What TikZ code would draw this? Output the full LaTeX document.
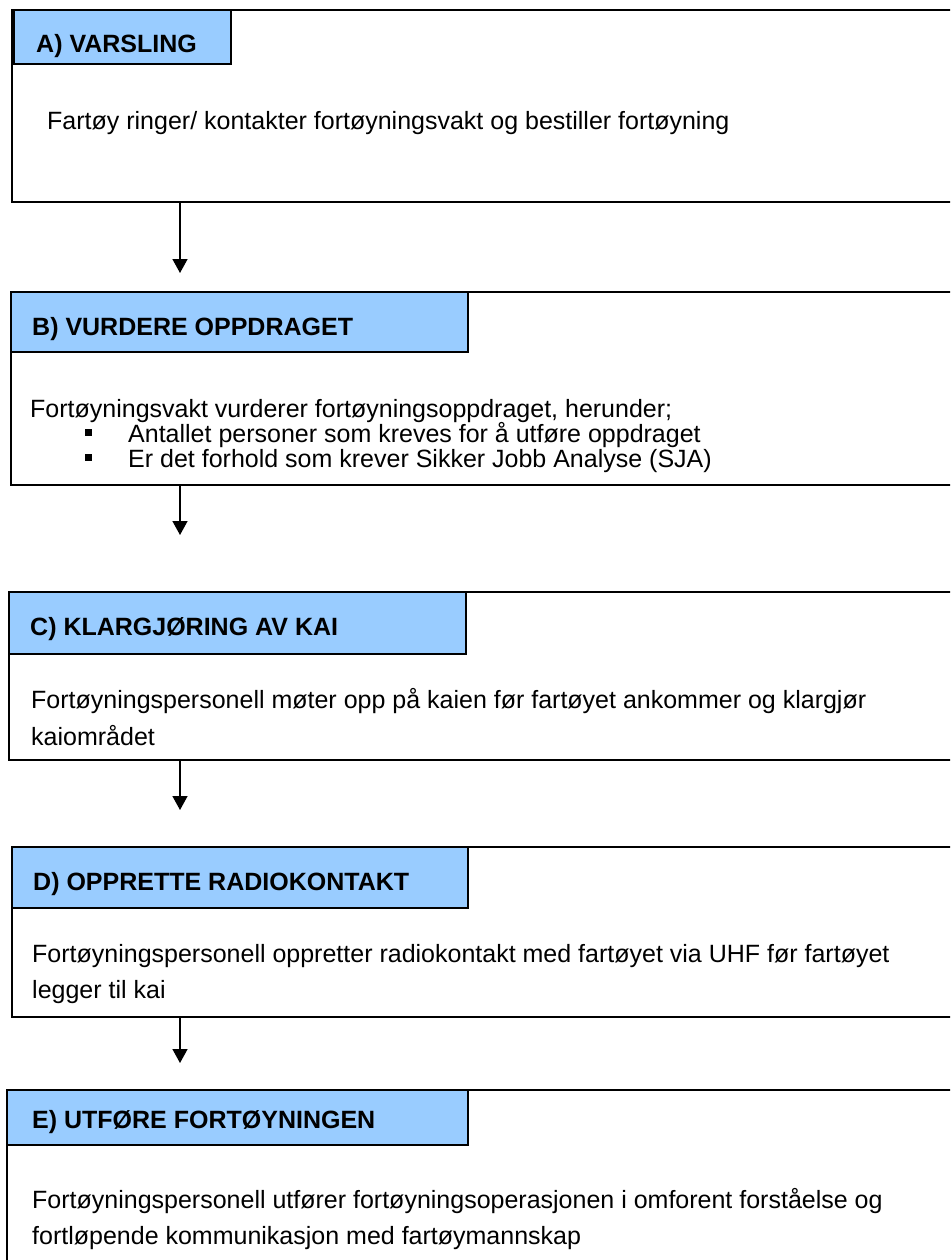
\documentclass[tikz,border=0pt]{standalone}
\usepackage{fontspec}
\setmainfont{Liberation Sans}
\usetikzlibrary{arrows.meta}
\definecolor{hdrblue}{RGB}{153,204,255}
\begin{document}
\begin{tikzpicture}[x=1pt,y=-1pt,
  outer/.style={draw=black, line width=1.5pt, inner sep=0pt, outer sep=0pt, anchor=north west, minimum width=1000pt},
  hdr/.style={draw=black, fill=hdrblue, line width=1.5pt, inner sep=0pt, outer sep=0pt, anchor=north west},
  ttl/.style={anchor=base west, inner sep=0pt, font=\fontsize{25}{30}\selectfont\bfseries},
  txt/.style={anchor=base west, inner sep=0pt, font=\fontsize{25}{30}\selectfont},
  arr/.style={line width=1.5pt, -{Triangle[width=15pt,length=14pt]}},
]
\useasboundingbox (0,0) rectangle (950,1260);
\clip (0,0) rectangle (950,1260);

% A
\node[outer, line width=2pt, minimum height=192pt] (A) at (12,10) {};
\node[hdr, minimum width=217pt, minimum height=54pt] (Ah) at (14,10) {};
\node[ttl] (At) at (36,53) {A) VARSLING};
\node[txt] (A1) at (47,130) {Fartøy ringer/ kontakter fortøyningsvakt og bestiller fortøyning};

% B
\node[outer, minimum height=193pt] (B) at (11,292) {};
\node[hdr, minimum width=457pt, minimum height=60pt] (Bh) at (11,292) {};
\node[ttl] (Bt) at (32,335) {B) VURDERE OPPDRAGET};
\node[txt] (B1) at (30,417) {Fortøyningsvakt vurderer fortøyningsoppdraget, herunder;};
\node[txt] (Bb1) at (85,442) {\rule[6.5pt]{7pt}{7pt}};
\node[txt] (B2) at (128,442) {Antallet personer som kreves for å utføre oppdraget};
\node[txt] (Bb2) at (85,467) {\rule[6.5pt]{7pt}{7pt}};
\node[txt] (B3) at (128,467) {Er det forhold som krever Sikker Jobb Analyse (SJA)};

% C
\node[outer, minimum height=168pt] (C) at (9,592) {};
\node[hdr, minimum width=457pt, minimum height=62pt] (Ch) at (9,592) {};
\node[ttl] (Ct) at (30,635) {C) KLARGJØRING AV KAI};
\node[txt] (C1) at (31,708) {Fortøyningspersonell møter opp på kaien før fartøyet ankommer og klargjør};
\node[txt] (C2) at (31,745) {kaiområdet};

% D
\node[outer, minimum height=170pt] (D) at (12,847) {};
\node[hdr, minimum width=456pt, minimum height=61pt] (Dh) at (12,847) {};
\node[ttl] (Dt) at (33,890) {D) OPPRETTE RADIOKONTAKT};
\node[txt] (D1) at (32,962) {Fortøyningspersonell oppretter radiokontakt med fartøyet via UHF før fartøyet};
\node[txt] (D2) at (32,998) {legger til kai};

% E
\node[outer, line width=1.3pt, minimum height=250pt] (E) at (7,1090) {};
\node[hdr, minimum width=461pt, minimum height=55pt] (Eh) at (7,1090) {};
\node[ttl] (Et) at (32,1128) {E) UTFØRE FORTØYNINGEN};
\node[txt] (E1) at (32,1208) {Fortøyningspersonell utfører fortøyningsoperasjonen i omforent forståelse og};
\node[txt] (E2) at (32,1244) {fortløpende kommunikasjon med fartøymannskap};

% arrows
\coordinate (a1) at (180,273);
\coordinate (a2) at (180,535);
\coordinate (a3) at (180,810);
\coordinate (a4) at (180,1063);
\draw[arr] (A.south -| a1) -- (a1);
\draw[arr] (B.south -| a2) -- (a2);
\draw[arr] (C.south -| a3) -- (a3);
\draw[arr] (D.south -| a4) -- (a4);
\end{tikzpicture}
\end{document}
